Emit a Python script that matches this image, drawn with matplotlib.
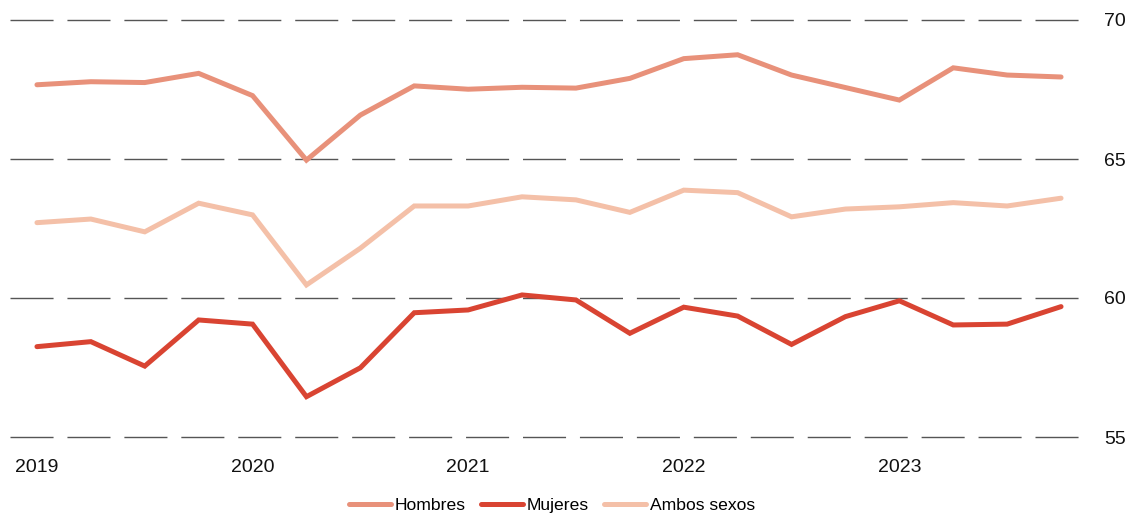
import numpy as np
import matplotlib
matplotlib.use("Agg")
import matplotlib.pyplot as plt

plt.rcParams['font.family'] = ['Liberation Sans', 'DejaVu Sans']

# quarterly series, 2019 Q1 .. 2023 Q4
quarters = ["2019T1", "2019T2", "2019T3", "2019T4",
            "2020T1", "2020T2", "2020T3", "2020T4",
            "2021T1", "2021T2", "2021T3", "2021T4",
            "2022T1", "2022T2", "2022T3", "2022T4",
            "2023T1", "2023T2", "2023T3", "2023T4"]
hombres = [67.67, 67.78, 67.75, 68.08, 67.28, 64.96, 66.58, 67.63, 67.51, 67.58,
           67.55, 67.90, 68.61, 68.75, 68.02, 67.57, 67.12, 68.28, 68.02, 67.95]
mujeres = [58.25, 58.43, 57.55, 59.21, 59.06, 56.45, 57.49, 59.47, 59.57, 60.11,
           59.93, 58.73, 59.67, 59.35, 58.33, 59.33, 59.90, 59.03, 59.06, 59.69]
ambos = [62.71, 62.84, 62.38, 63.41, 62.99, 60.47, 61.79, 63.31, 63.31, 63.64,
         63.53, 63.08, 63.88, 63.79, 62.92, 63.20, 63.28, 63.43, 63.31, 63.59]
years = ["2019", "2020", "2021", "2022", "2023"]
y_ticks = [55, 60, 65, 70]

series = [("Hombres", hombres, "#E8917A"),
          ("Mujeres", mujeres, "#D94432"),
          ("Ambos sexos", ambos, "#F4C0A8")]

fig = plt.figure(figsize=(11.33, 5.23), dpi=100)
W, H = 1133, 523
ax = fig.add_axes([10 / W, 1 - 437 / H, (1088 - 10) / W, (437 - 20) / H])

x = np.arange(len(quarters))
for name, vals, color in series:
    ax.plot(x, vals, color=color, lw=3.6, label=name,
            solid_capstyle="round", solid_joinstyle="miter", clip_on=False, zorder=3)

for v in y_ticks:
    ax.axhline(v, color="#555555", lw=1.0, dashes=(31, 10), zorder=1, clip_on=False)

ax.set_xlim(-0.5, 19.5)
ax.set_ylim(55, 70)
ax.set_yticks(y_ticks)
ax.yaxis.tick_right()
ax.tick_params(axis="y", length=0, pad=11.5, labelsize=14, labelcolor="#111111")
ax.set_xticks(x[::4])
ax.set_xticklabels(years)
ax.tick_params(axis="x", length=0, pad=16, labelsize=14, labelcolor="#111111")
for s in ax.spines.values():
    s.set_visible(False)

fig.legend(loc="center", bbox_to_anchor=(0.487, 0.033), ncol=3, frameon=False,
           fontsize=12.6, handlelength=2.4, handletextpad=0.2, columnspacing=0.9)

fig.savefig("out.png", dpi=100)
